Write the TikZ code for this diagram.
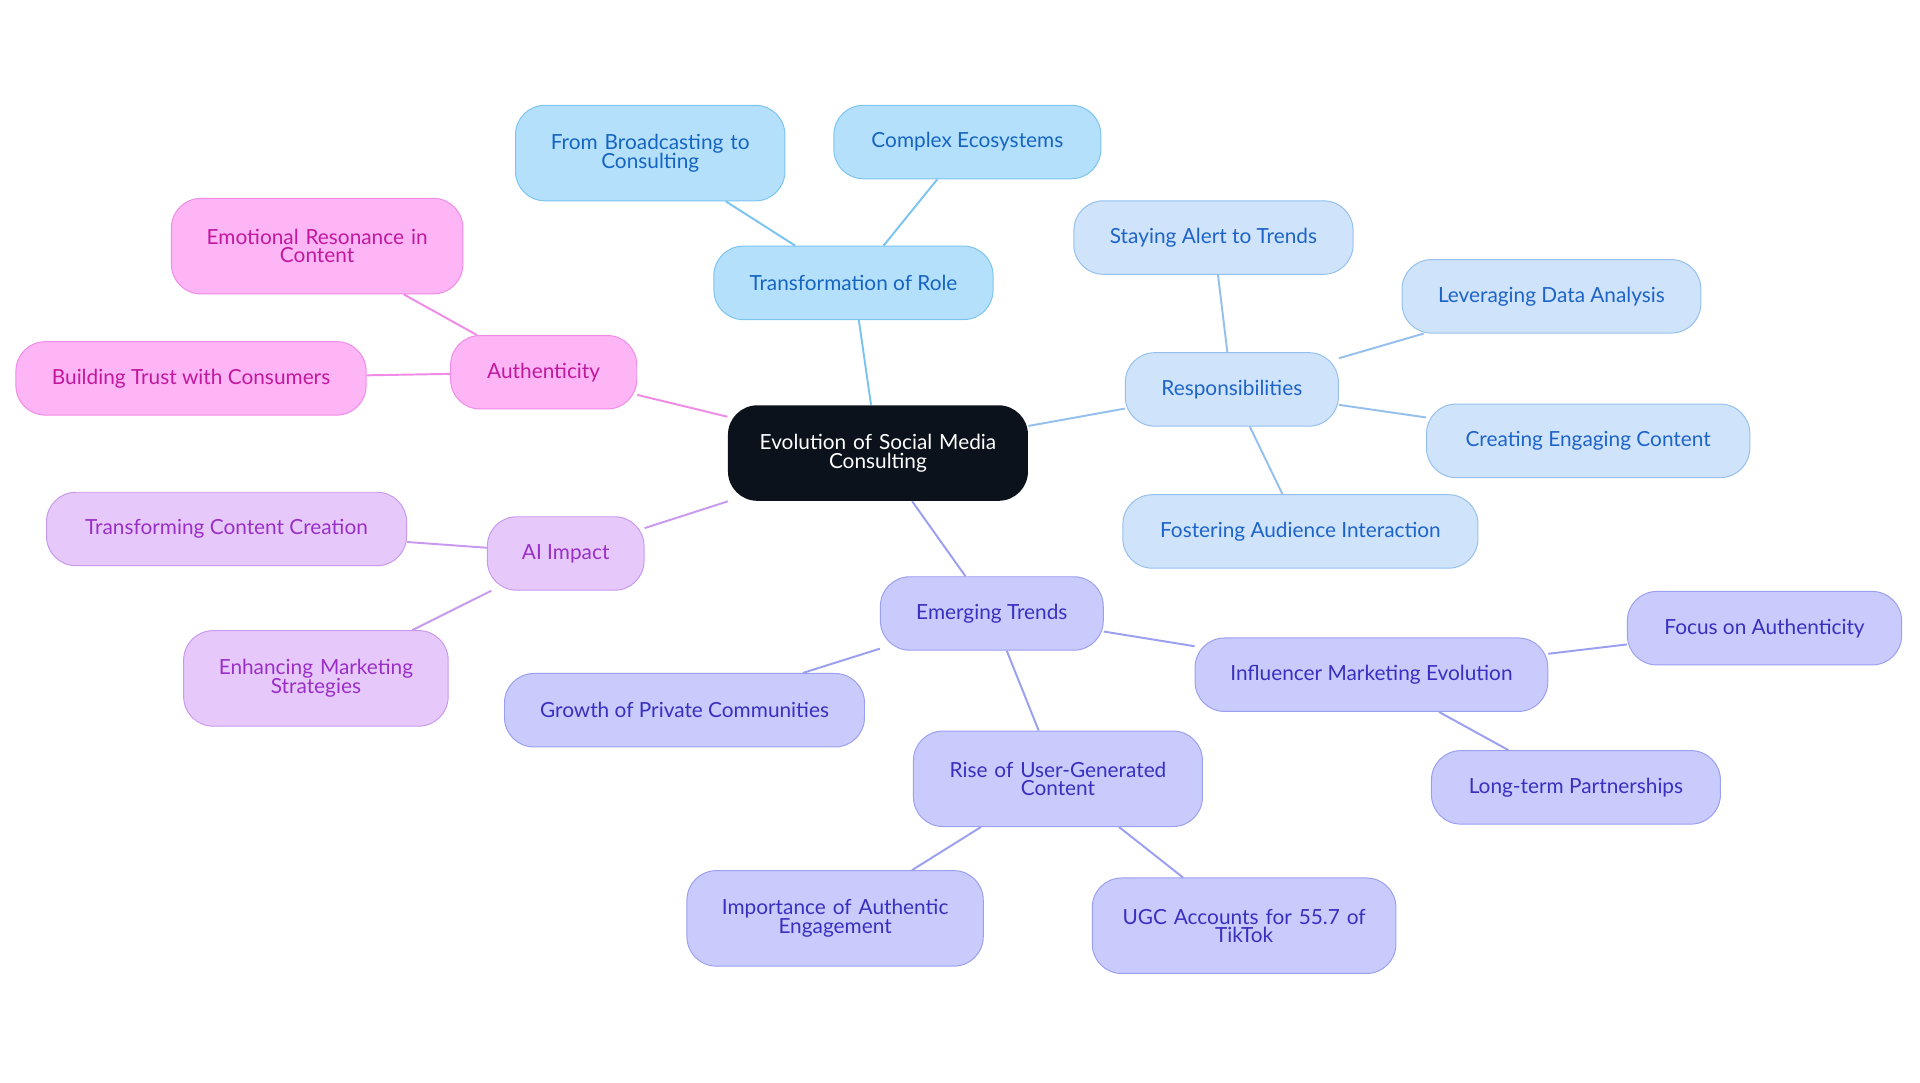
\documentclass[tikz,border=0pt]{standalone}
\usepackage{fontspec}
\setmainfont{Lato}
\definecolor{rootbg}{HTML}{0B121C}
\definecolor{blfill}{HTML}{B5E0FC}\definecolor{bldraw}{HTML}{7CC4F0}\definecolor{bltext}{HTML}{1565C0}
\definecolor{rsfill}{HTML}{CFE3FA}\definecolor{rsdraw}{HTML}{95C0EE}\definecolor{rstext}{HTML}{1E64C8}
\definecolor{pkfill}{HTML}{FDB5F5}\definecolor{pkdraw}{HTML}{F08BE6}\definecolor{pktext}{HTML}{C2189E}
\definecolor{aifill}{HTML}{E6C9FA}\definecolor{aidraw}{HTML}{C899EE}\definecolor{aitext}{HTML}{9A2FC8}
\definecolor{emfill}{HTML}{C9CBFC}\definecolor{emdraw}{HTML}{9B9FF0}\definecolor{emtext}{HTML}{3A2FBF}
\begin{document}
\begin{tikzpicture}[x=1pt,y=-1pt,
    box/.style = {rounded corners=24pt,minimum height=60pt,align=center,font=\fontsize{17}{18}\selectfont,line width=0.8pt},
    blue/.style = {box,fill=blfill,draw=bldraw,text=bltext},
    resp/.style = {box,fill=rsfill,draw=rsdraw,text=rstext},
    pink/.style = {box,fill=pkfill,draw=pkdraw,text=pktext},
    aibox/.style = {box,fill=aifill,draw=aidraw,text=aitext},
    trend/.style = {box,fill=emfill,draw=emdraw,text=emtext},
    tall/.style = {minimum height=78pt}]
\useasboundingbox (0,0) rectangle (1568,884);
% nodes
\node[box,fill=rootbg,text=white,tall,minimum width=245pt,text width=220pt] (root) at (717,370) {Evolution of Social Media\\[-3pt]Consulting};
\node[blue,minimum width=228pt] (role) at (697,231) {Transformation of Role};
\node[blue,tall,minimum width=220pt,text width=200pt] (broad) at (531,125) {From Broadcasting to\\[-3pt]Consulting};
\node[blue,minimum width=218pt] (eco) at (790,116) {Complex Ecosystems};
\node[resp,minimum width=174pt] (resp) at (1006,318) {Responsibilities};
\node[resp,minimum width=228pt] (alert) at (991,194) {Staying Alert to Trends};
\node[resp,minimum width=244pt] (data) at (1267,242) {Leveraging Data Analysis};
\node[resp,minimum width=264pt] (create) at (1297,360) {Creating Engaging Content};
\node[resp,minimum width=290pt] (foster) at (1062,434) {Fostering Audience Interaction};
\node[pink,minimum width=152pt] (auth) at (444,304) {Authenticity};
\node[pink,tall,minimum width=238pt,text width=218pt] (emo) at (259,201) {Emotional Resonance in\\[-3pt]Content};
\node[pink,minimum width=286pt] (trust) at (156,309) {Building Trust with Consumers};
\node[aibox,minimum width=128pt] (ai) at (462,452) {AI Impact};
\node[aibox,minimum width=294pt] (transf) at (185,432) {Transforming Content Creation};
\node[aibox,tall,minimum width=216pt,text width=196pt] (enh) at (258,554) {Enhancing Marketing\\[-3pt]Strategies};
\node[trend,minimum width=182pt] (emerg) at (810,501) {Emerging Trends};
\node[trend,minimum width=294pt] (priv) at (559,580) {Growth of Private Communities};
\node[trend,minimum width=288pt] (infl) at (1120,551) {Influencer Marketing Evolution};
\node[trend,minimum width=224pt] (focus) at (1441,513) {Focus on Authenticity};
\node[trend,minimum width=236pt] (long) at (1287,643) {Long-term Partnerships};
\node[trend,tall,minimum width=236pt,text width=216pt] (ugc) at (864,636) {Rise of User-Generated\\[-3pt]Content};
\node[trend,tall,minimum width=242pt,text width=222pt] (imp) at (682,750) {Importance of Authentic\\[-3pt]Engagement};
\node[trend,tall,minimum width=248pt,text width=228pt] (acc) at (1016,756) {UGC Accounts for 55.7 of\\[-3pt]TikTok};
% connectors
\begin{scope}[on background layer/.style={},line width=1.6pt]
\draw[bldraw] (root) -- (role) (role) -- (broad) (role) -- (eco);
\draw[rsdraw] (root) -- (resp) (resp) -- (alert) (resp) -- (data) (resp) -- (create) (resp) -- (foster);
\draw[pkdraw] (root) -- (auth) (auth) -- (emo) (auth) -- (trust);
\draw[aidraw] (root) -- (ai) (ai) -- (transf) (ai) -- (enh);
\draw[emdraw] (root) -- (emerg) (emerg) -- (priv) (emerg) -- (infl) (emerg) -- (ugc)
    (infl) -- (focus) (infl) -- (long) (ugc) -- (imp) (ugc) -- (acc);
\end{scope}
\end{tikzpicture}
\end{document}
